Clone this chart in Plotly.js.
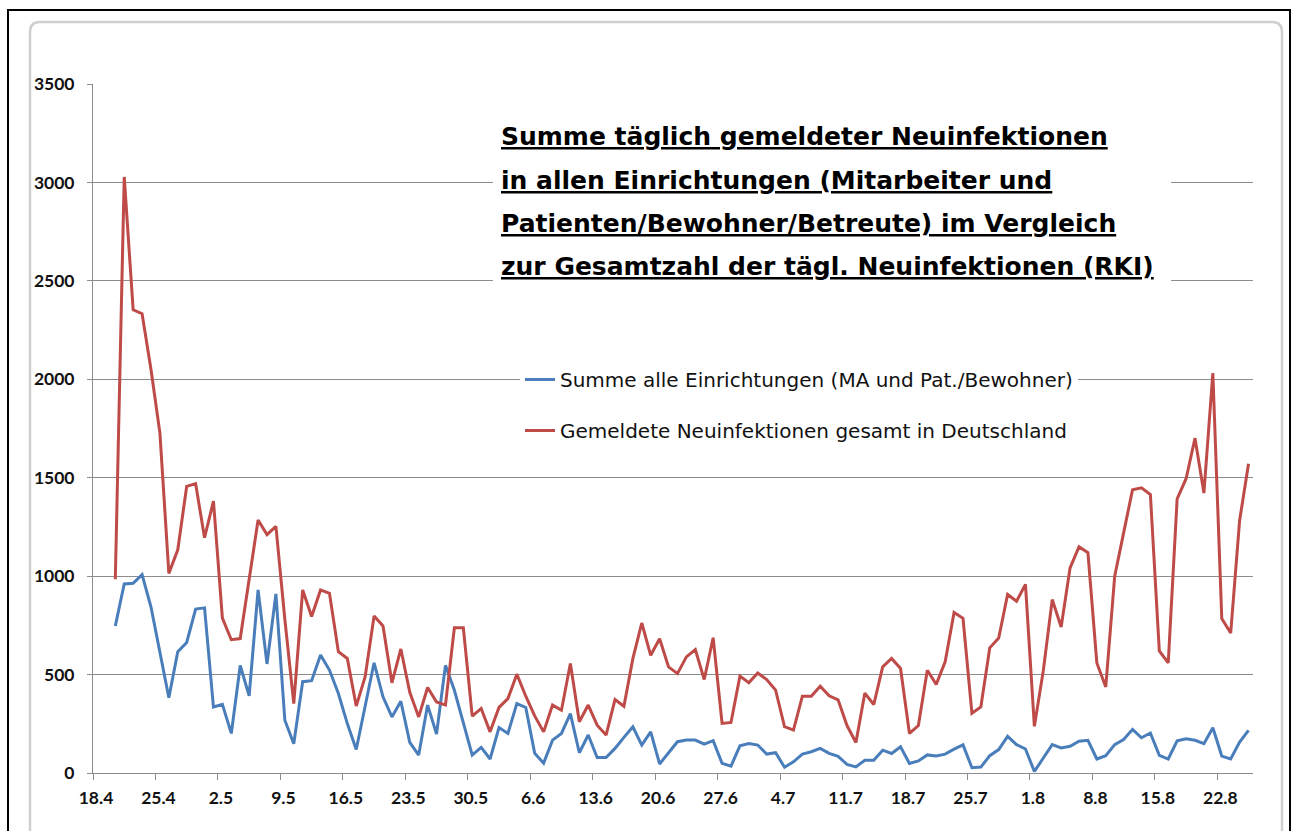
<!DOCTYPE html>
<html>
<head>
<meta charset="utf-8">
<script src="https://cdn.plot.ly/plotly-3.0.1.min.js"></script>
<style>
html,body{margin:0;padding:0;background:#fff;}
#chart{width:1293px;height:831px;}
.annotation-text tspan, .annotation-text {text-decoration-thickness: 2px; text-underline-offset: 3px;}
</style>
</head>
<body>
<div id="chart"></div>
<script>
// first reported day (Excel date axis: point in the middle of its day slot)
const firstDay = '2020-04-20 12:00';
const oneDayMs = 86400000;

// Summe alle Einrichtungen (MA und Pat./Bewohner), daily values from 20.4
const einrichtungen = [
  747, 960, 964, 1008, 843, 612, 382, 616, 663, 833,
  839, 335, 349, 201, 546, 392, 930, 554, 910, 268,
  149, 464, 469, 599, 523, 404, 251, 119, 336, 560,
  387, 285, 364, 155, 91, 345, 198, 547, 420, 250,
  91, 130, 71, 231, 201, 353, 333, 100, 50, 167,
  201, 302, 103, 193, 79, 79, 125, 181, 235, 142,
  209, 46, 103, 159, 167, 167, 147, 164, 49, 35,
  138, 150, 142, 96, 103, 29, 57, 96, 108, 125,
  100, 85, 44, 31, 65, 65, 116, 99, 133, 48,
  61, 92, 87, 96, 121, 143, 27, 30, 88, 119,
  186, 144, 122, 8, 76, 144, 127, 136, 161, 166,
  71, 88, 144, 170, 222, 179, 203, 90, 71, 163,
  174, 166, 149, 230, 86, 71, 157, 217
];

// Gemeldete Neuinfektionen gesamt in Deutschland (RKI), daily values from 20.4
const rki = [
  984, 3028, 2353, 2333, 2050, 1727, 1014, 1134, 1456, 1470,
  1195, 1381, 787, 677, 683, 984, 1285, 1211, 1253, 780,
  353, 930, 795, 930, 913, 616, 582, 340, 489, 798,
  747, 458, 630, 410, 285, 434, 361, 345, 738, 738,
  289, 328, 209, 333, 378, 502, 390, 290, 209, 345,
  319, 556, 260, 345, 243, 193, 373, 339, 581, 762,
  598, 682, 539, 505, 590, 627, 475, 687, 252, 257,
  492, 459, 508, 475, 421, 235, 218, 390, 390, 441,
  392, 372, 241, 155, 406, 348, 539, 582, 531, 201,
  241, 522, 450, 565, 815, 786, 304, 336, 636, 686,
  907, 873, 958, 237, 520, 881, 742, 1042, 1149, 1119,
  559, 437, 1000, 1220, 1439, 1449, 1415, 620, 559, 1393,
  1495, 1701, 1422, 2032, 784, 711, 1283, 1571
];

const seriesNames = [
  'Summe alle Einrichtungen (MA und Pat./Bewohner)',
  'Gemeldete Neuinfektionen gesamt in Deutschland'
];

const tickDates = [
  '2020-04-18', '2020-04-25', '2020-05-02', '2020-05-09', '2020-05-16',
  '2020-05-23', '2020-05-30', '2020-06-06', '2020-06-13', '2020-06-20',
  '2020-06-27', '2020-07-04', '2020-07-11', '2020-07-18', '2020-07-25',
  '2020-08-01', '2020-08-08', '2020-08-15', '2020-08-22'
];
const tickLabels = [
  '18.4', '25.4', '2.5', '9.5', '16.5', '23.5', '30.5', '6.6', '13.6', '20.6',
  '27.6', '4.7', '11.7', '18.7', '25.7', '1.8', '8.8', '15.8', '22.8'
];
const xRange = ['2020-04-18', '2020-08-26'];

const titleLines = [
  'Summe täglich gemeldeter Neuinfektionen',
  'in allen Einrichtungen (Mitarbeiter und',
  'Patienten/Bewohner/Betreute) im Vergleich',
  'zur Gesamtzahl der tägl. Neuinfektionen (RKI)'
];

const blue = '#4a7ebb';
const red = '#be4b48';
const gridGray = '#8c8c8c';

const traces = [
  {
    type: 'scatter', mode: 'lines', name: seriesNames[0], legendgroup: 'a',
    x0: firstDay, dx: oneDayMs, y: einrichtungen,
    line: {color: blue, width: 3}
  },
  {
    type: 'scatter', mode: 'lines', name: seriesNames[1], legendgroup: 'b',
    x0: firstDay, dx: oneDayMs, y: rki,
    line: {color: red, width: 3}
  }
];

// pixel helpers for the layout decorations (plot area: x 93..1253, y 84..773)
const L = 93, R = 1253, T = 84, B = 773;
const px = x => (x - L) / (R - L);
const py = y => (B - y) / (B - T);

const titleY = [136.5, 180, 223, 266.5];
const annotations = titleLines.map((t, i) => ({
  xref: 'paper', yref: 'paper', x: px(499), y: py(titleY[i]),
  xanchor: 'left', yanchor: 'middle', showarrow: false,
  text: '<u><b>' + t + '</b></u>',
  font: {family: 'DejaVu Sans', size: 25, color: '#000'}
}));

const rx = 10 / (R - L), ry = 10 / (B - T);
const gl = px(30), gr = px(1282), gt = py(22), gb = py(850);

const shapes = [
  // white box behind the title text (covers gridlines)
  {type: 'rect', xref: 'paper', yref: 'paper', x0: px(493), x1: px(1171), y0: py(300), y1: py(102),
   fillcolor: '#ffffff', line: {width: 0}, layer: 'above'},
  // chart area border with rounded top corners
  {type: 'path', xref: 'paper', yref: 'paper',
   path: `M ${gl},${gb} L ${gl},${gt - ry} Q ${gl},${gt} ${gl + rx},${gt} L ${gr - rx},${gt} Q ${gr},${gt} ${gr},${gt - ry} L ${gr},${gb}`,
   line: {color: '#cfcfcf', width: 2.5}, layer: 'below'},
  // outer black frame
  {type: 'rect', xref: 'paper', yref: 'paper', x0: px(8), x1: px(1290), y0: py(860), y1: py(10),
   line: {color: '#000000', width: 2}, layer: 'above'}
];

const layout = {
  width: 1293, height: 831,
  margin: {l: L, r: 1293 - R, t: T, b: 831 - B, pad: 0},
  paper_bgcolor: '#ffffff', plot_bgcolor: '#ffffff',
  showlegend: true,
  legend: {
    x: px(520), y: py(360), xanchor: 'left', yanchor: 'top',
    bgcolor: '#ffffff', borderwidth: 0,
    font: {family: 'DejaVu Sans', size: 20, color: '#111'},
    tracegroupgap: 22, traceorder: 'grouped', itemwidth: 30
  },
  xaxis: {
    type: 'date', range: xRange,
    tickmode: 'array', tickvals: tickDates, ticktext: tickLabels,
    showgrid: false, zeroline: false,
    showline: true, linecolor: gridGray, linewidth: 1,
    ticks: 'outside', ticklen: 6, tickcolor: gridGray, tickwidth: 1,
    ticklabelstandoff: 3, ticklabelshift: 3,
    tickfont: {family: 'Lato', size: 17.5, color: '#111', weight: 'bold'}
  },
  yaxis: {
    range: [0, 3500], tickmode: 'linear', tick0: 0, dtick: 500,
    showgrid: true, gridcolor: gridGray, gridwidth: 1,
    zeroline: false, showline: true, linecolor: gridGray, linewidth: 1,
    ticks: 'outside', ticklen: 5, tickcolor: gridGray, tickwidth: 1,
    ticklabelstandoff: 9,
    tickfont: {family: 'Lato', size: 17.5, color: '#111', weight: 'bold'}
  },
  annotations: annotations,
  shapes: shapes
};

Plotly.newPlot('chart', traces, layout, {staticPlot: true, displayModeBar: false});
</script>
</body>
</html>
